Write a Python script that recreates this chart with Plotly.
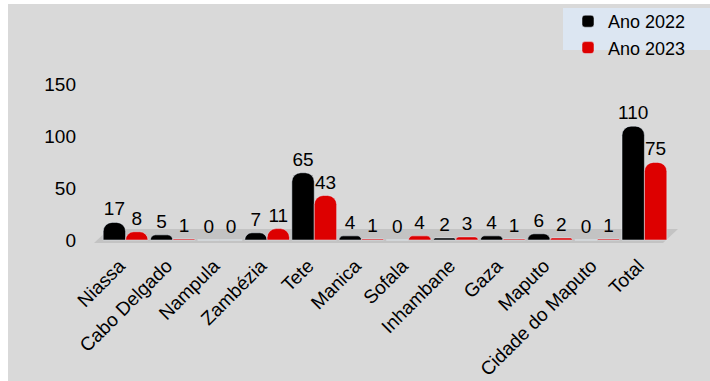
import plotly.graph_objects as go

categories = ["Niassa", "Cabo Delgado", "Nampula", "Zambézia", "Tete", "Manica",
              "Sofala", "Inhambane", "Gaza", "Maputo", "Cidade do Maputo", "Total"]
ano_2022 = [17, 5, 0, 7, 65, 4, 0, 2, 4, 6, 0, 110]
ano_2023 = [8, 1, 0, 11, 43, 1, 4, 3, 1, 2, 1, 75]
y_ticks = [0, 50, 100, 150]

W, H = 710, 381
L, R, T, B = 102, 42, 60, 131
PW, PH = W - L - R, H - T - B
ZERO_PX, SCALE = 240, 1.035

def px(x):
    return (x - L) / PW

def py(y):
    return (H - B - y) / PH

FONT = "Arial, Liberation Sans, sans-serif"

fig = go.Figure()
fig.add_trace(go.Bar(
    x=categories, y=ano_2022, name="Ano 2022",
    marker=dict(color="#000000", cornerradius=9),
    text=ano_2022, textposition="outside", cliponaxis=False, constraintext="none",
    textfont=dict(family=FONT, size=19, color="#000000"),
))
fig.add_trace(go.Bar(
    x=categories, y=ano_2023, name="Ano 2023",
    marker=dict(color="#dd0000", cornerradius=9),
    text=ano_2023, textposition="outside", cliponaxis=False, constraintext="none",
    textfont=dict(family=FONT, size=19, color="#000000"),
))

shapes = [
    # white strips at left and top edges
    dict(type="rect", xref="paper", yref="paper", x0=px(0), x1=px(8), y0=py(H), y1=py(0),
         fillcolor="white", line=dict(width=0), layer="below"),
    dict(type="rect", xref="paper", yref="paper", x0=px(0), x1=px(W), y0=py(4), y1=py(0),
         fillcolor="white", line=dict(width=0), layer="below"),
    # legend background
    dict(type="rect", xref="paper", yref="paper", x0=px(563), x1=px(W), y0=py(50), y1=py(8),
         fillcolor="#dce6f2", line=dict(width=0), layer="below"),
    # floor
    dict(type="path", xref="paper", yref="paper",
         path=f"M {px(94)} {py(243)} L {px(663)} {py(243)} L {px(678)} {py(229)} L {px(109)} {py(229)} Z",
         fillcolor="#c3c3c3", line=dict(width=0), layer="below"),
]

fig.update_layout(
    width=W, height=H,
    margin=dict(l=L, r=R, t=T, b=B, pad=0, autoexpand=False),
    paper_bgcolor="#d9d9d9", plot_bgcolor="rgba(0,0,0,0)",
    barmode="group", bargap=0.05, bargroupgap=0.0,
    font=dict(family=FONT, size=19, color="#000000"),
    showlegend=True,
    legend=dict(x=px(568), y=py(3), xanchor="left", yanchor="top",
                bgcolor="rgba(0,0,0,0)", font=dict(family=FONT, size=18, color="#000000"),
                itemwidth=30, tracegroupgap=0, traceorder="normal"),
    shapes=shapes,
    xaxis=dict(showgrid=False, showline=False, zeroline=False, ticks="", automargin=False,
               tickangle=-45, ticklabelshift=-6,
               tickfont=dict(family=FONT, size=19, color="#000000")),
    yaxis=dict(range=[-(H - B - ZERO_PX) / SCALE, (ZERO_PX - T) / SCALE], automargin=False,
               tickvals=y_ticks, showgrid=False, showline=False, zeroline=False, ticks="",
               ticklabelstandoff=25,
               tickfont=dict(family=FONT, size=19, color="#000000")),
)

fig.write_html("out.html")
